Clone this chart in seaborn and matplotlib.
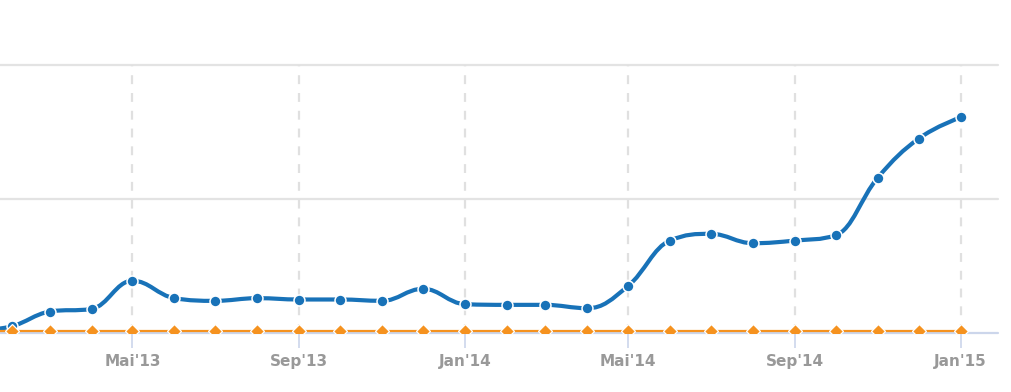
import numpy as np
import pandas as pd
import matplotlib
matplotlib.use("Agg")
import matplotlib.pyplot as plt
import matplotlib.dates as mdates
from matplotlib.path import Path
from matplotlib.patches import PathPatch
import seaborn as sns

# ---- data ----
months = pd.date_range("2013-01-01", "2015-01-01", freq="MS")
series_a = [0.01, 0.05, 0.16, 0.18, 0.39, 0.26, 0.24, 0.26, 0.25, 0.25, 0.24, 0.33,
            0.215, 0.21, 0.21, 0.185, 0.35, 0.69, 0.74, 0.67, 0.69, 0.73, 1.16, 1.45, 1.61]
series_b = [0.013] * 25
tick_labels = ["Mai'13", "Sep'13", "Jan'14", "Mai'14", "Sep'14", "Jan'15"]
tick_dates = pd.to_datetime(["2013-05-01", "2013-09-01", "2014-01-01",
                             "2014-05-01", "2014-09-01", "2015-01-01"])

df = pd.DataFrame({"m": months, "a": series_a, "b": series_b})

sns.set_theme(style="white")
plt.rcParams['font.family'] = ['DejaVu Sans']

fig = plt.figure(figsize=(10.12, 3.92), dpi=100)
ax = fig.add_axes([0, (392 - 333) / 392, 998 / 1012, 268 / 392])

BLUE = "#1872b8"
ORANGE = "#f5921f"

xnum = mdates.date2num(df["m"])
t_num = mdates.date2num(tick_dates)

# horizontal grid
for yv in [1, 2]:
    ax.axhline(yv, color="#e3e3e3", lw=1.6, zorder=0, clip_on=False)
# vertical dashed grid
for t in t_num:
    ax.axvline(t, color="#e0e0e0", lw=1.6, ls=(0, (4, 4)), zorder=0, clip_on=False)
# baseline
ax.axhline(0, color="#ccd6eb", lw=1.6, zorder=1, clip_on=False)


# Highcharts-like spline for series a
def spline_path(xs, ys, smoothing=1.5):
    n = len(xs)
    denom = smoothing + 1
    lc = [(x, y) for x, y in zip(xs, ys)]
    rc = [(x, y) for x, y in zip(xs, ys)]
    for i in range(1, n - 1):
        px, py = xs[i], ys[i]
        lx, ly = xs[i - 1], ys[i - 1]
        nx, ny = xs[i + 1], ys[i + 1]
        lcx = (smoothing * px + lx) / denom
        lcy = (smoothing * py + ly) / denom
        rcx = (smoothing * px + nx) / denom
        rcy = (smoothing * py + ny) / denom
        corr = ((rcy - lcy) * (rcx - px)) / (rcx - lcx) + py - rcy
        lcy += corr
        rcy += corr
        if lcy > ly and lcy > py:
            lcy = max(ly, py); rcy = 2 * py - lcy
        elif lcy < ly and lcy < py:
            lcy = min(ly, py); rcy = 2 * py - lcy
        if rcy > ny and rcy > py:
            rcy = max(ny, py); lcy = 2 * py - rcy
        elif rcy < ny and rcy < py:
            rcy = min(ny, py); lcy = 2 * py - rcy
        lc[i] = (lcx, lcy)
        rc[i] = (rcx, rcy)
    verts = [(xs[0], ys[0])]
    codes = [Path.MOVETO]
    for i in range(1, n):
        verts += [rc[i - 1], lc[i], (xs[i], ys[i])]
        codes += [Path.CURVE4] * 3
    return Path(verts, codes)


path = spline_path(list(xnum), list(df["a"]))
ax.add_patch(PathPatch(path, facecolor="none", edgecolor=BLUE, lw=3.0,
                       capstyle="round", joinstyle="round", zorder=3))
sns.scatterplot(x=xnum, y=df["a"], ax=ax, color=BLUE, s=62, marker="o",
                edgecolor="white", linewidth=1.1, zorder=4, legend=False)

sns.lineplot(x=xnum, y=df["b"], ax=ax, color=ORANGE, lw=1.6, zorder=5,
             marker="D", markersize=7, markeredgecolor="white", markeredgewidth=0.9,
             legend=False)

# x range: from ~7 days before Feb'13 to ~28 days after Jan'15
x0 = mdates.date2num(pd.Timestamp("2013-02-01")) - 8.5
x1 = mdates.date2num(pd.Timestamp("2015-01-01")) + 27.5
ax.set_xlim(x0, x1)
ax.set_ylim(0, 2)

for s in ax.spines.values():
    s.set_visible(False)
ax.set_xticks(t_num)
ax.set_xticklabels(tick_labels, fontsize=11, fontweight="bold", color="#999999")
ax.tick_params(axis="x", length=11, width=1.2, color="#ccd6eb", pad=4, bottom=True)
ax.set_yticks([])
ax.set_xlabel("")
ax.set_ylabel("")
ax.grid(False)

fig.savefig("out.png", dpi=100, facecolor="white")
